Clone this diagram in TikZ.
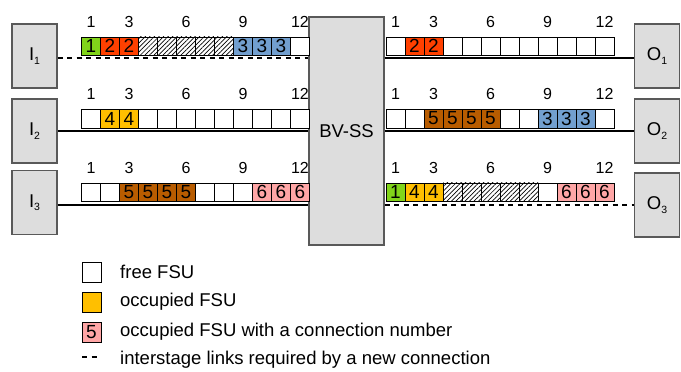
\documentclass[tikz,border=0pt]{standalone}
\usepackage{fontspec}
\setmainfont{Liberation Sans}
\usetikzlibrary{patterns.meta}

\definecolor{boxgray}{HTML}{DDDDDD}
\definecolor{fsulime}{HTML}{81D41A}
\definecolor{fsubrick}{HTML}{FF4000}
\definecolor{fsusky}{HTML}{729FCF}
\definecolor{fsuamber}{HTML}{FFBF00}
\definecolor{fsurust}{HTML}{B85C00}
\definecolor{fsurose}{HTML}{FFA6A6}

\tikzset{
  fsu/.style={draw,inner sep=0pt,minimum width=19pt,minimum height=18.5pt,font=\fontsize{19}{19}\selectfont},
  cfree/.style={fill=white},
  clime/.style={fill=fsulime},
  cbrick/.style={fill=fsubrick},
  csky/.style={fill=fsusky},
  camber/.style={fill=fsuamber},
  crust/.style={fill=fsurust},
  crose/.style={fill=fsurose},
  chatch/.style={fill=white,postaction={pattern={Lines[angle=45,distance=3.2pt,line width=0.7pt]}}},
  slot/.style={inner sep=0pt,font=\fontsize{16}{16}\selectfont},
  port/.style={draw=black!65,line width=1.2pt,fill=boxgray,minimum width=45pt,minimum height=64pt,inner sep=0pt,font=\fontsize{18.5}{18.5}\selectfont},
  link/.style={line width=2pt},
  newlink/.style={link,dash pattern=on 5pt off 4.5pt},
  lgtext/.style={anchor=west,inner sep=0pt,font=\fontsize{18.5}{18.5}\selectfont}
}

% #1 name, #2 left x, #3 centre y of the cells, #4 list of style/number
\newcommand{\fsurow}[4]{%
  \foreach \st/\tx [count=\i] in {#4}
    \node[fsu,\st] (#1-\i) at ({#2+(\i-0.5)*19},{#3}) {\tx};
  \foreach \k in {1,3,6,9,12}
    \node[slot] (#1-l\k) at ({#2+(\k-0.5)*19},{#3-24.5}) {\k};
}
\newcommand{\sub}[2]{#1\raisebox{-3.5pt}{\fontsize{10.5}{10.5}\selectfont #2}}

\begin{document}
\begin{tikzpicture}[x=1pt,y=-1pt]
\useasboundingbox (0,0) rectangle (681,372);
% switch and ports
\node[port,minimum width=75pt,minimum height=228pt] (bvss) at (346.5,131) {BV-SS};
\node[port] (I1) at (34.5,56) {\sub{I}{1}};
\node[port] (I2) at (34.5,131) {\sub{I}{2}};
\node[port] (I3) at (34.5,202.5) {\sub{I}{3}};
\node[port] (O1) at (657,56) {\sub{O}{1}};
\node[port] (O2) at (657,131) {\sub{O}{2}};
\node[port] (O3) at (657,205) {\sub{O}{3}};
% links
\draw[newlink] ([yshift=-2pt]I1.east) -- ([yshift=-2pt]I1.east -| bvss.west);
\draw[link] (I2.east) -- (I2.east -| bvss.west);
\draw[link] ([yshift=-2.5pt]I3.east) -- ([yshift=-2.5pt]I3.east -| bvss.west);
\draw[link] ([yshift=-2pt]O1.west -| bvss.east) -- ([yshift=-2pt]O1.west);
\draw[link] (O2.west -| bvss.east) -- (O2.west);
\draw[newlink] (O3.west -| bvss.east) -- (O3.west);
% spectrum slots, input side
\fsurow{a}{81.5}{46}{clime/1,cbrick/2,cbrick/2,chatch/{},chatch/{},chatch/{},chatch/{},chatch/{},csky/3,csky/3,csky/3,cfree/{}}
\fsurow{b}{81.5}{118.5}{cfree/{},camber/4,camber/4,cfree/{},cfree/{},cfree/{},cfree/{},cfree/{},cfree/{},cfree/{},cfree/{},cfree/{}}
\fsurow{c}{81.5}{192}{cfree/{},cfree/{},crust/5,crust/5,crust/5,crust/5,cfree/{},cfree/{},cfree/{},crose/6,crose/6,crose/6}
% spectrum slots, output side
\fsurow{d}{386}{46}{cfree/{},cbrick/2,cbrick/2,cfree/{},cfree/{},cfree/{},cfree/{},cfree/{},cfree/{},cfree/{},cfree/{},cfree/{}}
\fsurow{e}{386}{118.5}{cfree/{},cfree/{},crust/5,crust/5,crust/5,crust/5,cfree/{},cfree/{},csky/3,csky/3,csky/3,cfree/{}}
\fsurow{f}{386}{192}{clime/1,camber/4,camber/4,chatch/{},chatch/{},chatch/{},chatch/{},chatch/{},cfree/{},crose/6,crose/6,crose/6}
% legend
\node[fsu,cfree,minimum height=20pt] (lg1) at (91.5,272) {};
\node[fsu,camber,minimum height=20pt] (lg2) at (91.5,302) {};
\node[fsu,crose,minimum height=20pt] (lg3) at (91.5,332.5) {5};
\coordinate (lg4a) at (82,357);
\coordinate (lg4b) at (101,357);
\draw[newlink] (lg4a) -- (lg4b);
\node[lgtext] (lt1) at (120,272) {free FSU};
\node[lgtext] (lt2) at (120,302) {occupied FSU};
\node[lgtext] (lt3) at (120,332) {occupied FSU with a connection number};
\node[lgtext] (lt4) at (120,360) {interstage links required by a new connection};
\end{tikzpicture}
\end{document}
